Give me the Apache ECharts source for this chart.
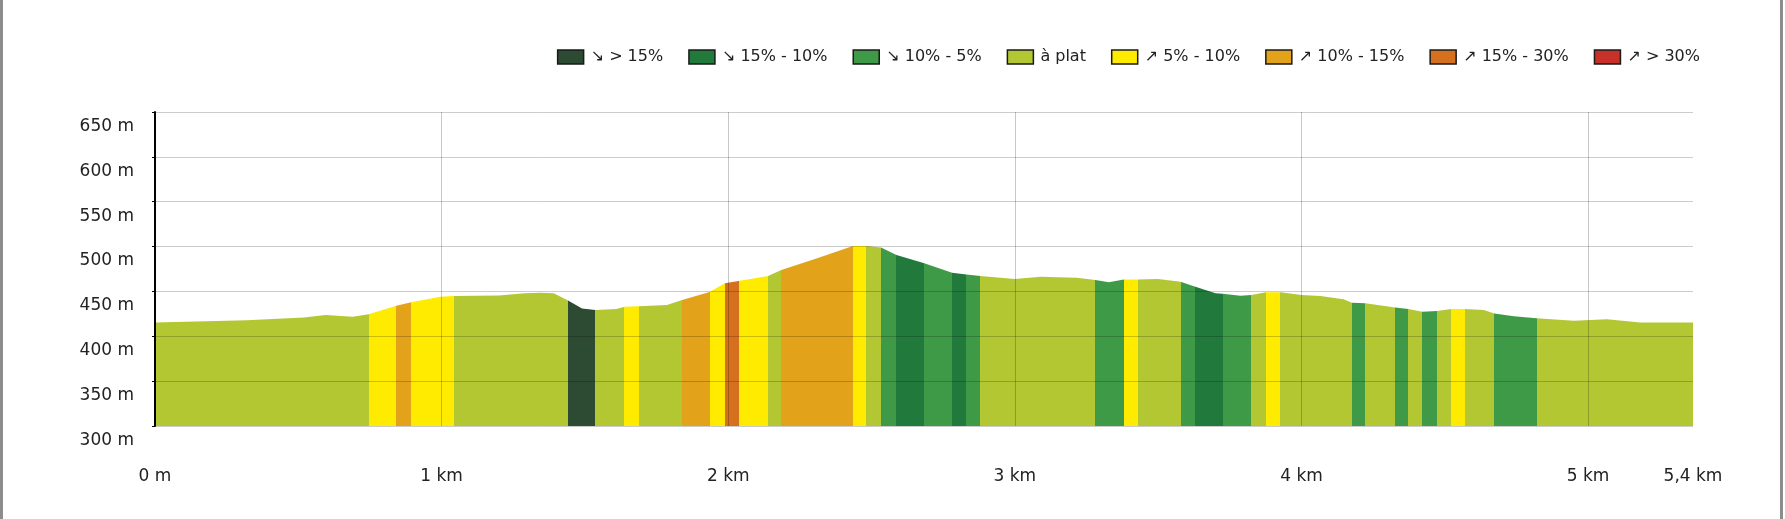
<!DOCTYPE html>
<html>

<head lang="fr">
    <meta charset="utf-8">
    <title>profil</title>
    <script src="https://cdn.jsdelivr.net/npm/echarts@6/dist/echarts.min.js"></script>
    <style>
        body { margin: 0; background: #fff; }
    </style>
</head>

<body>
    <div id="profil" style="width: 1785px;height:519px;"></div>
    <script type="text/javascript">
        // distance (km) / altitude (m)
        var dist = [0, 0.32, 0.52, 0.595, 0.69, 0.745, 0.842, 0.894, 0.995, 1.042,
            1.2, 1.29, 1.344, 1.391, 1.441, 1.49, 1.536, 1.61, 1.638, 1.688,
            1.786, 1.839, 1.935, 1.988, 2.036, 2.139, 2.185, 2.31, 2.435, 2.482,
            2.533, 2.587, 2.684, 2.781, 2.831, 2.88, 3.0, 3.09, 3.216, 3.281,
            3.328, 3.38, 3.428, 3.5, 3.578, 3.63, 3.7, 3.725, 3.787, 3.825,
            3.876, 3.926, 4.0, 4.066, 4.147, 4.176, 4.223, 4.327, 4.373, 4.422,
            4.473, 4.523, 4.57, 4.636, 4.673, 4.741, 4.82, 4.95, 5.066, 5.182, 5.366];
        var elev = [415.5, 418, 421, 423.6, 421.8, 424.5, 434, 438, 444, 444.8,
            445.5, 448, 448.5, 447.9, 440, 431, 429.2, 430.5, 433, 433.5,
            434.8, 440.4, 449.3, 459, 461.6, 467.2, 473.9, 487, 500.7, 500.7,
            499, 490.6, 481.3, 470.9, 469, 467.2, 463.8, 466.5, 465.3, 462.7,
            460.1, 463.4, 463.4, 463.8, 460.8, 455.2, 447.9, 447.5, 445.2, 446,
            449, 449, 446, 444.8, 441.2, 437.5, 436.7, 432.2, 430.3, 427.3,
            428.2, 430.3, 430.3, 429.2, 425.5, 422.4, 420, 417.4, 418.9, 415.5, 415.5];

        // fin de chaque tronçon (km) et sa classe de pente
        var segEnd = [0.745, 0.842, 0.894, 1.042, 1.441, 1.536, 1.638, 1.688, 1.839, 1.935,
            1.988, 2.036, 2.139, 2.185, 2.435, 2.482, 2.533, 2.587, 2.684, 2.781,
            2.831, 2.88, 3.281, 3.38, 3.428, 3.578, 3.63, 3.725, 3.825, 3.876,
            3.926, 4.176, 4.223, 4.327, 4.373, 4.422, 4.473, 4.523, 4.57, 4.673,
            4.82, 5.366];
        var segClass = [3, 4, 5, 4, 3, 0, 3, 4, 3, 5,
            4, 6, 4, 3, 5, 4, 3, 2, 1, 2,
            1, 2, 3, 2, 4, 3, 2, 1, 2, 3,
            4, 3, 2, 3, 2, 3, 2, 3, 4, 3,
            2, 3];

        var classNames = ['↘ > 15%', '↘ 15% - 10%', '↘ 10% - 5%', 'à plat',
            '↗ 5% - 10%', '↗ 10% - 15%', '↗ 15% - 30%', '↗ > 30%'];
        var classColors = ['#2d4a33', '#217a3c', '#3f9a47', '#b3c733',
            '#ffeb00', '#e2a31a', '#d5701e', '#c8302a'];

        var totalKm = dist[dist.length - 1];

        /*---------------------construction----------------------------*/
        var profil = dist.map(function (d, i) { return [d, elev[i]]; });

        var pieces = [];
        var start = 0;
        segEnd.forEach(function (end, i) {
            var p = { gte: start, color: classColors[segClass[i]] };
            if (i === segEnd.length - 1) p.lte = end; else p.lt = end;
            pieces.push(p);
            start = end;
        });

        var series = [{
            name: 'profil',
            type: 'line',
            data: profil,
            showSymbol: false,
            silent: true,
            lineStyle: { width: 0 },
            areaStyle: { opacity: 1, origin: 'start' },
            z: 2
        }];
        // séries vides pour la légende
        classNames.forEach(function (n, i) {
            series.push({
                name: n,
                type: 'bar',
                data: [],
                itemStyle: { color: classColors[i] }
            });
        });

        var myChart = echarts.init(document.getElementById('profil'));

        var option = {
            backgroundColor: '#fff',
            animation: false,
            textStyle: { fontFamily: 'DejaVu Sans' },
            graphic: [
                { type: 'rect', left: 0, top: 0, shape: { width: 3, height: 519 }, style: { fill: '#8c8c8c' } },
                { type: 'rect', left: 1780, top: 0, shape: { width: 3, height: 519 }, style: { fill: '#8c8c8c' } }
            ],
            legend: {
                right: 80,
                top: 44,
                itemWidth: 26,
                itemHeight: 14,
                itemGap: 25,
                icon: 'rect',
                selectedMode: false,
                itemStyle: { borderColor: '#1a1a1a', borderWidth: 1.5 },
                textStyle: { fontSize: 16, color: '#222', fontFamily: 'DejaVu Sans', padding: [0, 0, 0, 2] },
                data: classNames
            },
            visualMap: {
                type: 'piecewise',
                show: false,
                seriesIndex: 0,
                dimension: 0,
                pieces: pieces
            },
            grid: {
                left: 155,
                right: 92,
                top: 112,
                bottom: 93
            },
            xAxis: {
                type: 'value',
                min: 0,
                max: totalKm,
                interval: 1,
                z: 3,
                axisLine: { show: false },
                axisTick: { show: false },
                axisLabel: {
                    margin: 42,
                    fontSize: 17,
                    color: '#222',
                    formatter: function (v) {
                        if (v === 0) return '0 m';
                        if (Math.abs(v - Math.round(v)) < 1e-6) return Math.round(v) + ' km';
                        return v.toFixed(1).replace('.', ',') + ' km';
                    }
                },
                splitLine: { show: true, showMaxLine: false, lineStyle: { color: 'rgba(0,0,0,0.22)', width: 1 } }
            },
            yAxis: {
                type: 'value',
                min: 300,
                max: 650,
                interval: 50,
                z: 3,
                axisLine: { show: true, lineStyle: { color: '#000', width: 2 } },
                axisTick: { show: true, length: 3, lineStyle: { color: '#000' } },
                axisLabel: {
                    margin: 21,
                    fontSize: 17,
                    color: '#222',
                    verticalAlign: 'top',
                    padding: [6, 0, 0, 0],
                    formatter: '{value} m'
                },
                splitLine: { show: true, lineStyle: { color: 'rgba(0,0,0,0.2)', width: 1 } }
            },
            series: series
        };
        myChart.setOption(option);
    </script>
</body>

</html>
